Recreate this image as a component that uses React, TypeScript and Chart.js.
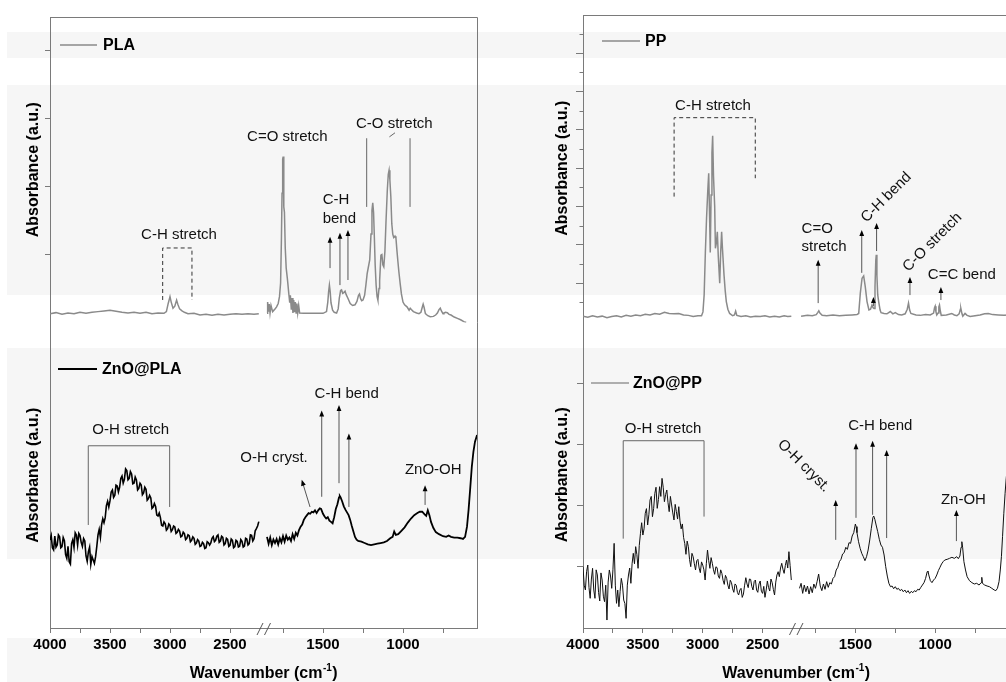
import React, { useEffect, useRef } from 'react';
import { Chart, registerables } from 'chart.js';

Chart.register(...registerables);

const FONT = '"Liberation Sans", Arial, Helvetica, sans-serif';
const AXIS = '#7a7a7a';
const GRAY = '#8a8a8a';

// ---------- x axis ticks (wavenumber, cm-1) ----------
const leftTicks = [4000, 3750, 3500, 3250, 3000, 2750, 2500];
const leftLabels = [4000, 3500, 3000, 2500];
const rightTicks = [1750, 1500, 1250, 1000, 750];
const rightLabels = [1500, 1000];

// ---------- PLA (gray) ----------
const plaHigh = [[4000,0.13],[3950,0.145],[3900,0.12],[3850,0.14],[3800,0.13],[3750,0.15],[3700,0.135],[3650,0.15],[3600,0.16],[3550,0.17],[3500,0.18],[3450,0.165],[3400,0.15],[3350,0.14],[3300,0.15],[3250,0.135],[3200,0.15],[3150,0.13],[3100,0.14],[3050,0.135],[3030,0.16],[3015,0.28],[3000,0.38],[2990,0.30],[2975,0.21],[2960,0.24],[2945,0.33],[2935,0.27],[2920,0.20],[2900,0.17],[2880,0.15],[2850,0.13],[2800,0.135],[2750,0.11],[2700,0.12],[2650,0.105],[2600,0.12],[2550,0.11],[2500,0.12],[2450,0.13],[2400,0.12],[2350,0.13],[2300,0.12],[2260,0.13]];
const plaLow = [[1850,0.135],[1846,0.30],[1841,0.16],[1836,0.27],[1831,0.14],[1825,0.25],[1815,0.16],[1800,0.20],[1790,0.23],[1780,0.28],[1772,0.38],[1765,0.58],[1760,1.21],[1756,1.90],[1752,2.40],[1749,2.44],[1746,2.39],[1744,1.70],[1741,1.62],[1736,1.10],[1730,0.80],[1722,0.63],[1714,0.43],[1708,0.29],[1704,0.40],[1698,0.19],[1693,0.36],[1688,0.14],[1683,0.33],[1678,0.15],[1673,0.30],[1668,0.14],[1663,0.28],[1658,0.14],[1652,0.25],[1646,0.14],[1620,0.135],[1560,0.135],[1500,0.135],[1478,0.16],[1470,0.30],[1465,0.45],[1460,0.55],[1455,0.45],[1450,0.29],[1440,0.18],[1430,0.15],[1415,0.14],[1405,0.20],[1398,0.36],[1390,0.47],[1384,0.48],[1377,0.43],[1370,0.44],[1362,0.46],[1355,0.41],[1345,0.36],[1330,0.28],[1315,0.25],[1300,0.26],[1288,0.31],[1278,0.40],[1272,0.42],[1265,0.35],[1258,0.32],[1250,0.33],[1240,0.40],[1232,0.55],[1224,0.72],[1216,0.82],[1208,0.92],[1200,1.30],[1194,1.65],[1189,1.76],[1184,1.62],[1179,1.25],[1174,0.85],[1168,0.55],[1162,0.38],[1157,0.33],[1150,0.50],[1146,0.62],[1138,0.99],[1132,1.00],[1126,0.85],[1120,0.82],[1113,1.05],[1106,1.50],[1098,1.95],[1092,2.18],[1087,2.24],[1082,2.10],[1076,1.85],[1070,1.45],[1064,1.30],[1058,1.25],[1050,1.27],[1044,1.24],[1038,1.06],[1032,0.90],[1026,0.75],[1018,0.58],[1010,0.42],[1000,0.30],[990,0.26],[975,0.23],[962,0.18],[955,0.21],[948,0.19],[935,0.16],[915,0.14],[900,0.13],[888,0.15],[880,0.22],[874,0.27],[868,0.22],[860,0.13],[845,0.10],[830,0.086],[810,0.09],[796,0.11],[785,0.14],[775,0.19],[767,0.21],[760,0.17],[750,0.13],[744,0.14],[735,0.15],[723,0.145],[712,0.12],[700,0.11],[680,0.08],[660,0.06],[640,0.04],[620,0.012],[605,0.0]];

// ---------- ZnO@PLA (black), high range sampled every 10 cm-1 from 4000 ----------
const znoPlaHighStart = 4000;
const znoPlaHighStep = 10;
const znoPlaHigh = [
1.294,1.36,1.181,1.15,1.353,1.19,1.221,1.37,1.343,1.18,
1.196,1.33,1.284,1.08,1.025,1.20,0.975,0.94,1.245,1.30,
1.186,1.40,1.368,1.22,1.392,1.36,1.260,1.20,1.314,1.28,
1.059,0.98,1.123,1.19,0.936,1.05,1.000,0.95,1.049,1.20,
1.368,1.45,1.333,1.52,1.608,1.55,1.623,1.80,1.863,1.78,
1.873,2.00,2.029,1.92,1.951,2.10,2.088,2.00,2.069,2.20,
2.235,2.13,2.186,2.34,2.314,2.18,2.201,2.30,2.265,2.12,
2.128,2.22,2.176,2.03,2.054,2.13,2.103,1.96,1.985,2.07,
2.039,1.88,1.902,1.95,1.912,1.76,1.779,1.83,1.789,1.66,
1.647,1.69,1.623,1.51,1.500,1.56,1.534,1.44,1.461,1.53,
1.510,1.42,1.446,1.50,1.485,1.39,1.407,1.45,1.426,1.34,
1.353,1.41,1.387,1.30,1.319,1.37,1.358,1.27,1.290,1.34,
1.319,1.23,1.250,1.30,1.279,1.20,1.211,1.26,1.240,1.17,
1.181,1.27,1.255,1.22,1.250,1.32,1.343,1.27,1.290,1.35,
1.368,1.26,1.279,1.35,1.333,1.22,1.240,1.32,1.304,1.20,
1.216,1.31,1.290,1.18,1.196,1.29,1.275,1.19,1.201,1.30,
1.275,1.19,1.206,1.32,1.309,1.22,1.240,1.37,1.363,1.28,
1.314,1.43,1.461,1.50,1.564];
const znoPlaLow = [[1850,1.34],[1840,1.24],[1830,1.33],[1820,1.22],[1810,1.30],[1800,1.25],[1790,1.31],[1780,1.23],[1770,1.32],[1760,1.26],[1750,1.35],[1740,1.27],[1730,1.36],[1720,1.30],[1710,1.33],[1700,1.28],[1690,1.38],[1680,1.31],[1670,1.40],[1660,1.36],[1650,1.44],[1640,1.49],[1630,1.52],[1620,1.59],[1610,1.63],[1600,1.66],[1590,1.69],[1580,1.68],[1570,1.71],[1560,1.70],[1550,1.73],[1540,1.69],[1530,1.73],[1520,1.76],[1512,1.75],[1500,1.68],[1490,1.64],[1480,1.61],[1470,1.63],[1460,1.58],[1450,1.56],[1440,1.54],[1430,1.63],[1420,1.75],[1410,1.82],[1400,1.92],[1395,1.94],[1390,1.92],[1380,1.86],[1370,1.79],[1360,1.74],[1350,1.70],[1340,1.66],[1330,1.59],[1320,1.50],[1310,1.42],[1300,1.34],[1290,1.30],[1280,1.28],[1260,1.27],[1240,1.25],[1220,1.23],[1200,1.22],[1180,1.23],[1160,1.24],[1140,1.25],[1120,1.26],[1100,1.28],[1080,1.32],[1065,1.34],[1055,1.42],[1045,1.37],[1030,1.38],[1010,1.43],[990,1.48],[970,1.55],[950,1.61],[930,1.66],[910,1.69],[895,1.71],[880,1.71],[865,1.67],[855,1.65],[845,1.73],[835,1.66],[825,1.56],[810,1.47],[795,1.41],[775,1.38],[750,1.35],[730,1.34],[715,1.36],[700,1.34],[680,1.33],[660,1.33],[640,1.32],[625,1.31],[612,1.34],[600,1.49],[590,1.74],[580,2.05],[570,2.37],[560,2.59],[550,2.74],[537,2.84]];

// ---------- PP (gray) ----------
const ppHigh = [[4000,0.14],[3960,0.11],[3920,0.15],[3880,0.12],[3840,0.14],[3800,0.10],[3760,0.13],[3720,0.15],[3680,0.12],[3640,0.16],[3600,0.14],[3560,0.17],[3520,0.15],[3480,0.19],[3440,0.17],[3400,0.21],[3360,0.19],[3320,0.24],[3280,0.21],[3240,0.20],[3200,0.21],[3160,0.17],[3120,0.16],[3080,0.13],[3040,0.15],[3010,0.15],[2998,0.25],[2988,0.70],[2978,1.80],[2968,2.70],[2958,3.40],[2950,3.87],[2943,2.80],[2937,1.80],[2930,3.30],[2923,4.40],[2917,4.85],[2910,3.80],[2900,3.00],[2894,1.91],[2886,2.05],[2878,2.34],[2870,1.70],[2858,1.00],[2850,1.80],[2842,2.34],[2835,1.90],[2822,1.21],[2812,0.80],[2803,0.52],[2790,0.32],[2775,0.21],[2750,0.15],[2735,0.17],[2725,0.27],[2715,0.16],[2680,0.13],[2640,0.15],[2600,0.12],[2560,0.14],[2520,0.13],[2480,0.15],[2440,0.12],[2400,0.14],[2360,0.12],[2320,0.15],[2290,0.13],[2260,0.14]];
const ppLow = [[1840,0.14],[1800,0.16],[1770,0.15],[1745,0.18],[1735,0.24],[1729,0.28],[1722,0.22],[1708,0.16],[1680,0.15],[1640,0.17],[1600,0.15],[1560,0.16],[1520,0.17],[1490,0.18],[1479,0.21],[1469,0.74],[1458,1.13],[1448,1.19],[1438,0.91],[1427,0.52],[1415,0.30],[1405,0.32],[1396,0.43],[1389,0.36],[1383,0.34],[1377,0.90],[1372,1.60],[1369,1.74],[1365,1.20],[1360,0.70],[1354,0.52],[1345,0.30],[1339,0.23],[1320,0.21],[1302,0.20],[1281,0.26],[1265,0.20],[1250,0.23],[1230,0.18],[1210,0.17],[1188,0.20],[1175,0.32],[1167,0.48],[1160,0.30],[1152,0.21],[1120,0.17],[1094,0.16],[1060,0.18],[1031,0.17],[1010,0.22],[1004,0.36],[1000,0.40],[995,0.25],[990,0.17],[982,0.22],[977,0.38],[973,0.43],[968,0.28],[962,0.16],[930,0.17],[896,0.21],[880,0.17],[864,0.15],[850,0.20],[842,0.32],[839,0.34],[832,0.20],[827,0.14],[813,0.21],[800,0.16],[781,0.13],[750,0.15],[719,0.17],[690,0.20],[667,0.21],[640,0.18],[604,0.17],[570,0.16],[535,0.17]];

// ---------- ZnO@PP (black), high range sampled every 10 cm-1 from 4000 ----------
const znoPpHighStart = 4000;
const znoPpHighStep = 10;
const znoPpHigh = [
1.002,0.70,0.621,0.92,1.029,0.66,0.485,0.80,0.975,0.62,
0.485,0.95,0.866,0.58,0.441,0.90,0.784,0.52,0.430,0.70,
0.130,0.75,0.948,0.85,0.648,0.95,1.383,0.70,0.403,0.62,
0.348,0.60,0.811,0.70,0.457,0.40,0.158,0.70,0.866,0.98,
0.730,1.05,1.220,1.05,1.329,1.20,0.975,1.35,1.547,1.72,
1.519,1.62,1.874,1.95,1.683,1.85,2.091,2.15,1.819,1.95,
2.200,2.30,1.955,2.10,2.309,2.15,2.445,2.30,2.064,2.18,
2.255,2.05,1.901,2.15,2.010,1.88,1.765,2.02,1.901,1.78,
1.982,1.75,1.620,1.70,1.480,1.38,1.204,1.42,1.329,1.12,
1.002,1.22,1.165,1.05,0.948,1.10,1.122,0.98,0.904,1.08,
1.029,0.95,0.784,1.05,1.274,1.10,0.975,1.15,1.057,0.95,
0.877,1.00,0.986,0.85,0.811,0.95,0.893,0.78,0.713,0.86,
0.811,0.70,0.637,0.78,0.741,0.64,0.583,0.72,0.697,0.58,
0.539,0.62,0.648,0.50,0.555,0.70,0.822,0.72,0.659,0.80,
0.795,0.68,0.621,0.76,0.784,0.62,0.583,0.72,0.768,0.60,
0.566,0.68,0.501,0.62,0.768,0.66,0.604,0.80,0.741,0.63,
0.539,0.75,0.866,0.92,0.839,0.98,1.057,0.96,0.893,1.02,
1.111,0.98,1.247,1.02,0.784];
const znoPpLow = [[1850,0.648],[1840,0.730],[1830,0.566],[1820,0.702],[1810,0.593],[1800,0.686],[1790,0.555],[1780,0.675],[1770,0.577],[1760,0.719],[1750,0.648],[1740,0.757],[1730,0.882],[1720,0.686],[1710,0.610],[1700,0.719],[1690,0.632],[1680,0.757],[1670,0.664],[1660,0.741],[1650,0.719],[1640,0.811],[1630,0.839],[1620,0.948],[1610,0.991],[1600,1.084],[1590,1.122],[1580,1.209],[1570,1.231],[1560,1.318],[1550,1.285],[1540,1.394],[1530,1.383],[1520,1.503],[1510,1.558],[1500,1.699],[1495,1.656],[1490,1.558],[1480,1.410],[1470,1.302],[1460,1.220],[1450,1.165],[1440,1.100],[1430,1.165],[1420,1.274],[1410,1.438],[1400,1.628],[1390,1.808],[1385,1.830],[1378,1.775],[1370,1.683],[1360,1.574],[1350,1.449],[1340,1.356],[1330,1.318],[1320,1.193],[1310,1.002],[1300,0.849],[1290,0.730],[1280,0.675],[1270,0.686],[1260,0.642],[1250,0.675],[1240,0.632],[1230,0.648],[1220,0.610],[1210,0.632],[1200,0.593],[1190,0.621],[1180,0.577],[1170,0.610],[1160,0.566],[1150,0.599],[1140,0.577],[1130,0.610],[1120,0.593],[1110,0.632],[1100,0.621],[1090,0.664],[1080,0.702],[1070,0.741],[1060,0.811],[1050,0.920],[1045,0.931],[1040,0.866],[1030,0.773],[1020,0.741],[1010,0.784],[1000,0.811],[990,0.866],[980,0.937],[970,0.991],[960,1.046],[950,1.084],[940,1.111],[925,1.122],[910,1.138],[895,1.155],[880,1.138],[865,1.165],[855,1.133],[845,1.176],[838,1.318],[833,1.410],[828,1.318],[820,1.084],[810,0.948],[800,0.839],[785,0.773],[770,0.741],[755,0.719],[740,0.730],[725,0.702],[712,0.741],[708,0.828],[704,0.730],[690,0.702],[675,0.686],[660,0.675],[645,0.648],[630,0.621],[620,0.610],[610,0.648],[600,0.757],[592,0.948],[585,1.165],[578,1.492],[570,1.874],[562,2.200],[555,2.445],[545,2.69],[535,3.0]];

// ---------- annotation texts ----------
const plaNotes = [
  { t: 'C-H stretch', ax: 'x1', ay: 'yTop', w: 2925, v: 1.29 },
  { t: 'C=O stretch', ax: 'x2', ay: 'yTop', w: 1723, v: 2.73 },
  { t: 'C-H', ax: 'x2', ay: 'yTop', w: 1502, v: 1.80, align: 'left' },
  { t: 'bend', ax: 'x2', ay: 'yTop', w: 1502, v: 1.53, align: 'left' },
  { t: 'C-O stretch', ax: 'x2', ay: 'yTop', w: 1054, v: 2.92 },
  { t: 'O-H stretch', ax: 'x1', ay: 'yBot', w: 3328, v: 2.92 },
  { t: 'O-H cryst.', ax: 'x2', ay: 'yBot', w: 1806, v: 2.50 },
  { t: 'C-H bend', ax: 'x2', ay: 'yBot', w: 1352, v: 3.45 },
  { t: 'ZnO-OH', ax: 'x2', ay: 'yBot', w: 811, v: 2.32 },
];
const ppNotes = [
  { t: 'C-H stretch', ax: 'x1', ay: 'yTop', w: 2914, v: 5.63 },
  { t: 'C=O', ax: 'x2', ay: 'yTop', w: 1837, v: 2.43, align: 'left' },
  { t: 'stretch', ax: 'x2', ay: 'yTop', w: 1837, v: 1.95, align: 'left' },
  { t: 'C-H bend', ax: 'x2', ay: 'yTop', w: 1306, v: 3.24, rot: -45 },
  { t: 'C-O stretch', ax: 'x2', ay: 'yTop', w: 1017, v: 2.07, rot: -45 },
  { t: 'C=C bend', ax: 'x2', ay: 'yTop', w: 833, v: 1.21 },
  { t: 'O-H stretch', ax: 'x1', ay: 'yBot', w: 3331, v: 3.26 },
  { t: 'O-H cryst.', ax: 'x2', ay: 'yBot', w: 1823, v: 2.65, rot: 45 },
  { t: 'C-H bend', ax: 'x2', ay: 'yBot', w: 1344, v: 3.30 },
  { t: 'Zn-OH', ax: 'x2', ay: 'yBot', w: 823, v: 2.10 },
];

// brackets / guide lines (wavenumber, absorbance)
const plaGuides = [
  { ax: 'x1', ay: 'yTop', dash: true, pts: [[3061,0.331],[3061,1.096],[2817,1.096],[2817,0.331]] },
  { ax: 'x2', ay: 'yTop', pts: [[1227,1.70],[1227,2.71]] },
  { ax: 'x2', ay: 'yTop', pts: [[956,1.70],[956,2.71]] },
  { ax: 'x2', ay: 'yTop', pts: [[1085,2.73],[1050,2.79]] },
  { ax: 'x1', ay: 'yBot', pts: [[3681,1.515],[3681,2.68],[3003,2.68],[3003,1.78]] },
];
const ppGuides = [
  { ax: 'x1', ay: 'yTop', dash: true, pts: [[3239,3.26],[3239,5.32],[2561,5.32],[2561,3.74]] },
  { ax: 'x1', ay: 'yBot', pts: [[3664,1.46],[3664,3.06],[2989,3.06],[2989,1.82]] },
];

// arrows: [wStart, vStart, wEnd, vEnd]
const plaArrows = [
  { ax: 'x2', ay: 'yTop', p: [1456,0.80,1456,1.26] },
  { ax: 'x2', ay: 'yTop', p: [1394,0.55,1394,1.32] },
  { ax: 'x2', ay: 'yTop', p: [1344,0.625,1344,1.36] },
  { ax: 'x2', ay: 'yBot', p: [1581,1.78,1633,2.18] },
  { ax: 'x2', ay: 'yBot', p: [1508,1.93,1508,3.20] },
  { ax: 'x2', ay: 'yBot', p: [1400,2.13,1400,3.28] },
  { ax: 'x2', ay: 'yBot', p: [1338,1.78,1338,2.86] },
  { ax: 'x2', ay: 'yBot', p: [862,1.81,862,2.10] },
];
const ppArrows = [
  { ax: 'x2', ay: 'yTop', p: [1733,0.48,1733,1.61] },
  { ax: 'x2', ay: 'yTop', p: [1460,1.27,1460,2.39] },
  { ax: 'x2', ay: 'yTop', p: [1367,1.84,1367,2.57] },
  { ax: 'x2', ay: 'yTop', p: [1387,0.40,1387,0.64] },
  { ax: 'x2', ay: 'yTop', p: [1158,0.69,1158,1.16] },
  { ax: 'x2', ay: 'yTop', p: [964,0.56,964,0.90] },
  { ax: 'x2', ay: 'yBot', p: [1623,1.44,1623,2.09] },
  { ax: 'x2', ay: 'yBot', p: [1496,1.80,1496,3.02] },
  { ax: 'x2', ay: 'yBot', p: [1392,1.85,1392,3.06] },
  { ax: 'x2', ay: 'yBot', p: [1304,1.47,1304,2.91] },
  { ax: 'x2', ay: 'yBot', p: [867,1.42,867,1.93] },
];

const toPts = (pairs: number[][]) => pairs.map(([x, y]) => ({ x, y }));
const gridPts = (start: number, step: number, vals: number[]) => vals.map((y, i) => ({ x: start - i * step, y }));

function makePlugin(spec: any) {
  return {
    id: 'fig',
    afterDatasetsDraw(chart: any) {
      const ctx = chart.ctx;
      const S = chart.scales;
      const px = (a: string, w: number) => S[a].getPixelForValue(w);
      const py = (a: string, v: number) => S[a].getPixelForValue(v);
      ctx.save();
      for (const g of spec.guides) {
        ctx.beginPath();
        ctx.strokeStyle = g.dash ? '#333' : '#666';
        ctx.lineWidth = 1;
        ctx.setLineDash(g.dash ? [4, 3] : []);
        g.pts.forEach(([w, v]: number[], i: number) => {
          const x = px(g.ax, w), y = py(g.ay, v);
          if (i === 0) ctx.moveTo(x, y); else ctx.lineTo(x, y);
        });
        ctx.stroke();
      }
      ctx.setLineDash([]);
      for (const a of spec.arrows) {
        const x0 = px(a.ax, a.p[0]), y0 = py(a.ay, a.p[1]);
        const x1 = px(a.ax, a.p[2]), y1 = py(a.ay, a.p[3]);
        const ang = Math.atan2(y1 - y0, x1 - x0);
        const L = 6, H = 2.4;
        ctx.beginPath();
        ctx.strokeStyle = '#555';
        ctx.lineWidth = 1;
        ctx.moveTo(x0, y0);
        ctx.lineTo(x1 - Math.cos(ang) * (L - 1), y1 - Math.sin(ang) * (L - 1));
        ctx.stroke();
        ctx.beginPath();
        ctx.fillStyle = '#000';
        ctx.moveTo(x1, y1);
        ctx.lineTo(x1 - Math.cos(ang) * L - Math.sin(ang) * H, y1 - Math.sin(ang) * L + Math.cos(ang) * H);
        ctx.lineTo(x1 - Math.cos(ang) * L + Math.sin(ang) * H, y1 - Math.sin(ang) * L - Math.cos(ang) * H);
        ctx.closePath();
        ctx.fill();
      }
      ctx.font = `15px ${FONT}`;
      ctx.fillStyle = '#111';
      ctx.textBaseline = 'middle';
      for (const n of spec.notes) {
        ctx.save();
        ctx.translate(px(n.ax, n.w), py(n.ay, n.v));
        if (n.rot) ctx.rotate((n.rot * Math.PI) / 180);
        ctx.textAlign = n.align || 'center';
        ctx.fillText(n.t, 0, 0);
        ctx.restore();
      }
      const area = chart.chartArea;
      for (const lg of spec.legends) {
        const y = S[lg.ay].top + lg.dy;
        ctx.beginPath();
        ctx.strokeStyle = lg.color;
        ctx.lineWidth = lg.lw;
        ctx.moveTo(area.left + lg.dx0, y);
        ctx.lineTo(area.left + lg.dx1, y);
        ctx.stroke();
        ctx.font = `bold 16px ${FONT}`;
        ctx.fillStyle = '#000';
        ctx.textAlign = 'left';
        ctx.fillText(lg.t, area.left + lg.dxt, y + 1);
      }
      ctx.restore();
    },
    afterDraw(chart: any) {
      const ctx = chart.ctx;
      const { left, right, top, bottom } = chart.chartArea;
      const S = chart.scales;
      ctx.save();
      ctx.strokeStyle = AXIS;
      ctx.lineWidth = 1;
      ctx.beginPath();
      ctx.moveTo(left, top + 0.5);
      ctx.lineTo(Math.round(right) + 0.5, top + 0.5);
      ctx.lineTo(Math.round(right) + 0.5, bottom);
      ctx.stroke();
      for (const m of spec.minor) {
        const y = Math.round(S[m.ay].getPixelForValue(m.v)) + 0.5;
        ctx.beginPath();
        ctx.moveTo(left, y);
        ctx.lineTo(left - 3.5, y);
        ctx.stroke();
      }
      const jx = S.x1.right;
      ctx.strokeStyle = '#555';
      ctx.beginPath();
      ctx.moveTo(jx - 7, bottom + 7);
      ctx.lineTo(jx - 1, bottom - 5);
      ctx.moveTo(jx + 0.5, bottom + 7);
      ctx.lineTo(jx + 6.5, bottom - 5);
      ctx.stroke();
      const cx = (left + right) / 2;
      const ty = bottom + 46;
      const main = 'Wavenumber (cm';
      ctx.font = `bold 16px ${FONT}`;
      const w1 = ctx.measureText(main).width;
      const w3 = ctx.measureText(')').width;
      ctx.font = `bold 10px ${FONT}`;
      const w2 = ctx.measureText('-1').width;
      let x = cx - (w1 + w2 + w3 + 1) / 2;
      ctx.fillStyle = '#000';
      ctx.textBaseline = 'middle';
      ctx.textAlign = 'left';
      ctx.font = `bold 16px ${FONT}`;
      ctx.fillText(main, x, ty);
      x += w1 + 0.5;
      ctx.font = `bold 10px ${FONT}`;
      ctx.fillText('-1', x, ty - 6);
      x += w2 + 0.5;
      ctx.font = `bold 16px ${FONT}`;
      ctx.fillText(')', x, ty);
      ctx.restore();
    },
  };
}

function buildConfig(spec: any) {
  const xCommon = (ticks: number[], labels: number[]) => ({
    type: 'linear',
    position: 'bottom',
    stack: 'wn',
    reverse: true,
    afterBuildTicks: (s: any) => { s.ticks = ticks.map((value) => ({ value })); },
    afterFit: (s: any) => { s.height = 54; },
    ticks: {
      autoSkip: false,
      maxRotation: 0,
      minRotation: 0,
      padding: 3,
      color: '#000',
      font: { family: FONT, size: 15, weight: 'bold' },
      callback: (v: number) => (labels.includes(v) ? String(v) : ''),
    },
    grid: { drawOnChartArea: false, tickLength: 5, color: AXIS, tickColor: AXIS },
    border: { color: AXIS, width: 1 },
  });
  const yCommon = (max: number, ticks: number[], len: number) => ({
    type: 'linear',
    position: 'left',
    stack: 'abs',
    stackWeight: 1,
    min: 0,
    max,
    afterBuildTicks: (s: any) => { s.ticks = ticks.map((value) => ({ value })); },
    afterFit: (s: any) => { s.width = spec.axisW; },
    ticks: { callback: () => '' },
    grid: { drawOnChartArea: false, drawTicks: len > 0, tickLength: len, color: AXIS, tickColor: AXIS },
    border: { color: AXIS, width: 1 },
    title: {
      display: true,
      text: 'Absorbance (a.u.)',
      color: '#000',
      font: { family: FONT, size: 16, weight: 'bold' },
      padding: { top: spec.titlePad, bottom: 0 },
    },
  });
  return {
    type: 'line',
    data: {
      datasets: spec.series.map((s: any) => ({
        data: s.data,
        xAxisID: s.ax,
        yAxisID: s.ay,
        borderColor: s.color,
        borderWidth: s.lw,
        pointRadius: 0,
        tension: 0,
        fill: false,
      })),
    },
    options: {
      animation: false,
      responsive: false,
      events: [],
      layout: { padding: { left: 0, top: spec.padTop, right: spec.padRight, bottom: 0 } },
      plugins: { legend: { display: false }, tooltip: { enabled: false } },
      scales: {
        x1: { ...xCommon(leftTicks, leftLabels), min: 2216.7, max: 4000, stackWeight: 214 },
        x2: { ...xCommon(rightTicks, rightLabels), min: 535, max: 1868.75, stackWeight: 213.4 },
        // stacked left axes are laid out last-defined-first, so the lower one is listed first
        yBot: yCommon(spec.botMax, spec.botTicks, spec.botLen),
        yTop: yCommon(spec.topMax, spec.topTicks, spec.topLen),
      },
    },
    plugins: [makePlugin(spec)],
  };
}

const leftSpec = {
  canvasW: 500, axisW: 50, titlePad: 24, padTop: 17, padRight: 22.6,
  topMax: 4.493, topTicks: [1, 2, 3, 4], topLen: 5,
  botMax: 4.493, botTicks: [1, 2, 3, 4], botLen: 0,
  minor: [] as any[],
  series: [
    { data: toPts(plaHigh), ax: 'x1', ay: 'yTop', color: GRAY, lw: 1.5 },
    { data: toPts(plaLow), ax: 'x2', ay: 'yTop', color: GRAY, lw: 1.5 },
    { data: gridPts(znoPlaHighStart, znoPlaHighStep, znoPlaHigh), ax: 'x1', ay: 'yBot', color: '#000', lw: 1.6 },
    { data: toPts(znoPlaLow), ax: 'x2', ay: 'yBot', color: '#000', lw: 1.8 },
  ],
  notes: plaNotes, guides: plaGuides, arrows: plaArrows,
  legends: [
    { t: 'PLA', ay: 'yTop', dy: 28, dx0: 10, dx1: 47, dxt: 53, color: GRAY, lw: 1.5 },
    { t: 'ZnO@PLA', ay: 'yBot', dy: 46.5, dx0: 8, dx1: 47, dxt: 52, color: '#000', lw: 1.8 },
  ],
};

const rightSpec = {
  canvasW: 540, axisW: 83, titlePad: 53, padTop: 15, padRight: 30.6,
  topMax: 8.0, topTicks: [1, 2, 3, 4, 5, 6, 7], topLen: 7,
  botMax: 5.008, botTicks: [1, 2, 3, 4], botLen: 6,
  minor: [0.5, 1.5, 2.5, 3.5, 4.5, 5.5, 6.5, 7.5].map((v) => ({ ay: 'yTop', v })),
  series: [
    { data: toPts(ppHigh), ax: 'x1', ay: 'yTop', color: GRAY, lw: 1.5 },
    { data: toPts(ppLow), ax: 'x2', ay: 'yTop', color: GRAY, lw: 1.5 },
    { data: gridPts(znoPpHighStart, znoPpHighStep, znoPpHigh), ax: 'x1', ay: 'yBot', color: '#111', lw: 1 },
    { data: toPts(znoPpLow), ax: 'x2', ay: 'yBot', color: '#111', lw: 1 },
  ],
  notes: ppNotes, guides: ppGuides, arrows: ppArrows,
  legends: [
    { t: 'PP', ay: 'yTop', dy: 26, dx0: 19, dx1: 57, dxt: 62, color: GRAY, lw: 1.5 },
    { t: 'ZnO@PP', ay: 'yBot', dy: 61.5, dx0: 8, dx1: 46, dxt: 50, color: '#666', lw: 1 },
  ],
};

function Panel({ spec, left }: { spec: any; left: number }) {
  const ref = useRef<HTMLCanvasElement>(null);
  useEffect(() => {
    const chart = new Chart(ref.current as HTMLCanvasElement, buildConfig(spec) as any);
    return () => chart.destroy();
  }, []);
  return (
    <canvas
      ref={ref}
      width={spec.canvasW}
      height={682}
      style={{ position: 'absolute', left, top: 0, width: spec.canvasW, height: 682 }}
    />
  );
}

const bands = [[32, 58], [85, 295], [348, 559], [638, 682]];

export default function App() {
  return (
    <div style={{ position: 'fixed', left: 0, top: 0, width: 1006, height: 682, overflow: 'hidden', background: '#fff' }}>
      {bands.map(([a, b]) => (
        <div key={a} style={{ position: 'absolute', left: 7, top: a, width: 999, height: b - a, background: '#f6f6f6' }} />
      ))}
      <Panel spec={leftSpec} left={0} />
      <Panel spec={rightSpec} left={500} />
    </div>
  );
}
